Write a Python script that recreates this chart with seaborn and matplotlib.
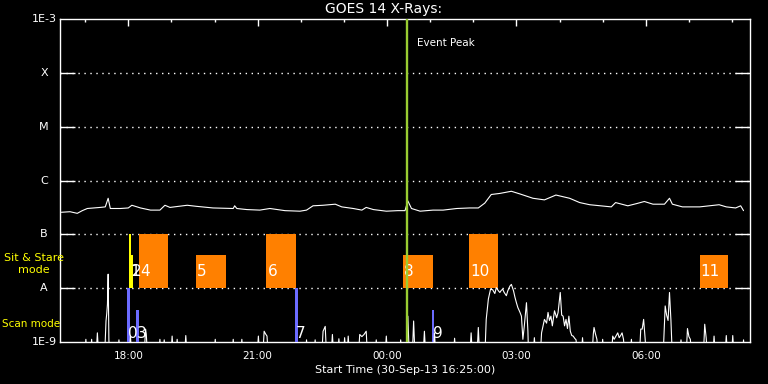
import numpy as np
import pandas as pd
import matplotlib
matplotlib.use('Agg')
import matplotlib.pyplot as plt
import matplotlib.dates as mdates
import matplotlib.transforms as mtransforms
import seaborn as sns

# time axis: minutes after start
start = pd.Timestamp('2013-09-30 16:25:00')
span_min = 960

# GOES long channel (1-8 A), log10 flux
long_min = [2, 14, 24, 31, 38, 47, 56, 63, 67, 70, 84, 95, 100, 112, 126, 139, 146, 153,
            177, 190, 213, 241, 243, 246, 260, 278, 292, 313, 334, 343, 352, 366, 383, 392,
            408, 420, 426, 436, 454, 470, 480, 484, 489, 501, 519, 533, 552, 570, 582, 591,
            600, 612, 628, 640, 658, 674, 690, 709, 723, 737, 767, 773, 790, 802, 813, 825,
            841, 848, 852, 866, 890, 917, 927, 940, 947, 951]
long_log = [-6.59, -6.58, -6.61, -6.56, -6.52, -6.51, -6.50, -6.49, -6.33, -6.52, -6.52, -6.51,
            -6.46, -6.51, -6.55, -6.55, -6.46, -6.50, -6.46, -6.48, -6.51, -6.52, -6.47, -6.52,
            -6.54, -6.55, -6.52, -6.56, -6.57, -6.55, -6.47, -6.46, -6.44, -6.49, -6.52, -6.55,
            -6.50, -6.54, -6.57, -6.56, -6.56, -6.38, -6.52, -6.57, -6.55, -6.55, -6.52, -6.51,
            -6.51, -6.42, -6.26, -6.24, -6.20, -6.25, -6.33, -6.36, -6.27, -6.33, -6.41, -6.45,
            -6.49, -6.41, -6.47, -6.43, -6.39, -6.44, -6.44, -6.33, -6.44, -6.49, -6.49, -6.45,
            -6.49, -6.51, -6.47, -6.56]

# GOES short channel (0.5-4 A), log10 flux; -9.3 = below plot floor
short_min = [0, 34, 36, 38, 42, 44, 46, 50, 52, 54, 62, 64, 65, 66, 67, 68, 69, 80, 82, 84,
             96, 98, 100, 117, 119, 120, 122, 137, 139, 141, 143, 145, 147, 154, 156, 158,
             161, 163, 165, 173, 175, 177, 214, 216, 218, 239, 241, 243, 251, 253, 255, 274,
             276, 278, 282, 284, 286, 288, 290, 341, 343, 345, 353, 355, 357, 364, 366, 369,
             371, 377, 379, 381, 386, 388, 390, 394, 396, 398, 399, 401, 403, 415, 417, 420,
             423, 426, 428, 438, 440, 442, 452, 454, 456, 472, 474, 476, 482, 484, 486, 490,
             492, 494, 505, 507, 509, 519, 521, 523, 547, 549, 551, 570, 572, 574, 580, 582,
             584, 591, 593, 596, 599, 602, 605, 607, 610, 612, 614, 616, 618, 621, 623, 626,
             628, 631, 633, 635, 637, 640, 642, 644, 646, 649, 651, 652, 658, 660, 662, 668,
             670, 672, 674, 677, 679, 681, 683, 685, 688, 691, 693, 696, 698, 700, 702, 704,
             706, 708, 710, 712, 714, 716, 718, 720, 725, 727, 729, 740, 742, 743, 745, 747,
             749, 753, 755, 757, 767, 769, 771, 774, 776, 778, 780, 782, 784, 786, 793, 795,
             797, 806, 808, 810, 812, 814, 816, 839, 841, 842, 844, 846, 848, 850, 852, 862,
             864, 866, 871, 873, 875, 877, 879, 895, 897, 899, 901, 908, 910, 912, 925, 927,
             929, 934, 936, 938, 949, 951, 953]
short_log = [-9.3, -9.3, -8.95, -9.3, -9.3, -8.95, -9.3, -9.3, -8.83, -9.3, -9.3, -8.61, -8.48,
             -8.30, -7.74, -8.95, -9.3, -9.3, -8.96, -9.3, -9.3, -8.89, -9.3, -9.3, -8.76, -8.85,
             -9.3, -9.3, -8.95, -9.3, -9.3, -8.96, -9.3, -9.3, -8.89, -9.3, -9.3, -8.95, -9.3,
             -9.3, -8.88, -9.3, -9.3, -8.95, -9.3, -9.3, -8.95, -9.3, -9.3, -8.95, -9.3, -9.3,
             -8.89, -9.3, -9.3, -8.80, -8.85, -8.89, -9.3, -9.3, -8.96, -9.3, -9.3, -8.96, -9.3,
             -9.3, -8.80, -8.71, -9.3, -9.3, -8.86, -9.3, -9.3, -8.94, -9.3, -9.3, -8.92, -9.3,
             -9.3, -8.89, -9.3, -9.3, -8.86, -8.90, -8.86, -8.80, -9.3, -9.3, -8.96, -9.3, -9.3,
             -8.89, -9.3, -9.3, -8.96, -9.3, -9.3, -8.52, -9.3, -9.3, -8.61, -9.3, -9.3, -8.80,
             -9.3, -9.3, -8.83, -9.3, -9.3, -8.93, -9.3, -9.3, -8.83, -9.3, -9.3, -8.73, -9.3,
             -9.3, -8.58, -8.20, -8.02, -8.03, -8.10, -7.99, -8.05, -8.08, -8.04, -8.02, -8.08,
             -8.14, -8.05, -7.96, -7.93, -8.05, -8.17, -8.27, -8.36, -8.45, -8.52, -8.95, -8.70,
             -8.27, -8.80, -9.3, -9.3, -8.92, -9.3, -9.3, -8.83, -8.70, -8.58, -8.65, -8.45,
             -8.60, -8.52, -8.70, -8.42, -8.55, -8.45, -8.08, -8.50, -8.52, -8.70, -8.58, -8.75,
             -8.52, -8.80, -8.88, -8.89, -8.93, -8.96, -9.3, -9.3, -8.92, -9.3, -9.3, -8.85,
             -8.73, -8.85, -8.95, -9.3, -9.3, -8.95, -9.3, -9.3, -8.89, -8.95, -8.88, -8.83,
             -8.92, -8.88, -8.83, -8.95, -9.3, -9.3, -8.95, -9.3, -9.3, -8.76, -8.76, -8.58,
             -8.92, -9.3, -9.3, -8.65, -8.33, -8.50, -8.60, -8.08, -8.60, -9.3, -9.3, -8.96,
             -9.3, -9.3, -8.75, -8.90, -8.95, -9.3, -9.3, -8.67, -8.92, -9.3, -9.3, -8.89, -9.3,
             -9.3, -8.88, -9.3, -9.3, -8.88, -9.3, -9.3, -8.96, -9.3]

# observations (IRIS-style timeline)
obs_label = ['0', '1', '2', '3', '4', '5', '6', '7', '8', '9', '10', '11']
obs_mode = ['scan', 'stare', 'stare', 'scan', 'stare', 'stare', 'stare', 'scan',
            'stare', 'scan', 'stare', 'stare']
obs_start = [93, 96, 99, 106, 110, 189, 287, 327, 477, 517, 569, 890]
obs_end = [98, 99, 101, 110, 150, 231, 328, 331, 519, 521, 610, 930]
obs_top = [-8.0, -7.0, -7.39, -8.41, -7.0, -7.39, -7.0, -8.0, -7.39, -8.41, -7.0, -7.39]

peak_min = 483

class_names = ['1E-9', 'A', 'B', 'C', 'M', 'X', '1E-3']
class_exp = [-9, -8, -7, -6, -5, -4, -3]

sns.set_style('dark', rc={'axes.facecolor': 'black', 'figure.facecolor': 'black',
                          'axes.edgecolor': 'white', 'text.color': 'white',
                          'xtick.color': 'white', 'ytick.color': 'white',
                          'axes.labelcolor': 'white'})
plt.rcParams['font.family'] = ['DejaVu Sans']

t0 = mdates.date2num(start)
to_num = lambda m: t0 + np.asarray(m, dtype=float) / 1440.0

long_df = pd.DataFrame({'time': start + pd.to_timedelta(long_min, unit='min'),
                        'flux': 10.0 ** np.array(long_log)})
short_df = pd.DataFrame({'time': start + pd.to_timedelta(short_min, unit='min'),
                         'flux': 10.0 ** np.array(short_log)})

fig = plt.figure(figsize=(7.68, 3.84), dpi=100)
ax = fig.add_axes([60 / 768, 42 / 384, 690 / 768, 323 / 384])

sns.lineplot(data=long_df, x='time', y='flux', ax=ax, color='white', lw=0.8,
             estimator=None, sort=False, zorder=4)
sns.lineplot(data=short_df, x='time', y='flux', ax=ax, color='white', lw=0.8,
             estimator=None, sort=False, zorder=4)

ax.set_yscale('log')
ax.set_ylim(10.0 ** class_exp[0], 10.0 ** class_exp[-1])
ax.set_xlim(to_num(0), to_num(span_min))

# dotted class levels
for e in class_exp[1:-1]:
    ax.axhline(10.0 ** e, color='white', lw=1.0, ls=(0, (1, 3.3)), zorder=1)

# observation bars
for lab, mode, s, e, top in zip(obs_label, obs_mode, obs_start, obs_end, obs_top):
    base = -8.0 if mode == 'stare' else -9.0
    if mode == 'scan':
        col = '#6b6bff'
    elif e - s < 5:
        col = '#ffff00'
    else:
        col = '#ff8000'
    ax.bar(to_num(s), 10.0 ** top - 10.0 ** base, bottom=10.0 ** base,
           width=(e - s) / 1440.0, align='edge', color=col, lw=0, zorder=3)
for lab, mode, s in zip(obs_label, obs_mode, obs_start):
    ty = -7.69 if mode == 'stare' else -8.84
    ax.annotate(lab, (to_num(s), 10.0 ** ty), xytext=(0.8, 0), textcoords='offset points',
                ha='left', va='center', fontsize=11, color='white', zorder=5)

ax.axvline(to_num(peak_min), color='#9acd32', lw=1.7, zorder=6)
ax.annotate('Event Peak', (to_num(peak_min), 1), xycoords=('data', 'axes fraction'),
            xytext=(7, -17), textcoords='offset points', ha='left', va='center',
            fontsize=7.5, color='white')

# axes styling
for sp in ax.spines.values():
    sp.set_color('white')
    sp.set_linewidth(1.0)
ax.set_yticks([10.0 ** e for e in class_exp[1:-1]])
ax.yaxis.set_minor_locator(matplotlib.ticker.NullLocator())
ax.tick_params(axis='y', which='major', direction='in', length=10.8, width=1.0,
               left=True, right=True, labelleft=False)
ax.xaxis.set_major_locator(mdates.HourLocator(byhour=range(0, 24, 3)))
ax.xaxis.set_minor_locator(mdates.HourLocator())
ax.xaxis.set_major_formatter(mdates.DateFormatter('%H:%M'))
ax.tick_params(axis='x', which='both', direction='in', bottom=False, top=True,
               labelbottom=True, labelsize=7.5, pad=6.5, colors='white')
ax.tick_params(axis='x', which='major', length=4.8, width=1.0)
ax.tick_params(axis='x', which='minor', length=2.4, width=1.0)
ax.set_ylabel('')
ax.set_xlabel('Start Time (30-Sep-13 16:25:00)', fontsize=8, labelpad=3)
ax.grid(False)

tr = mtransforms.blended_transform_factory(fig.transFigure, ax.transData)
for name, e in zip(class_names, class_exp):
    fig.text(44 / 768, 10.0 ** e, name, transform=tr, ha='center', va='center',
             fontsize=8, color='white')

fig.text(34 / 768, 1 - 264 / 384, 'Sit & Stare\nmode', ha='center', va='center',
         multialignment='center', fontsize=8, color='#ffff00')
fig.text(2 / 768, 1 - 324 / 384, 'Scan mode', ha='left', va='center',
         fontsize=7.5, color='#ffff00')
fig.text(0.5, 1 - 9 / 384, 'GOES 14 X-Rays:', ha='center', va='center', fontsize=10,
         color='white')

fig.savefig('out.png', dpi=100, facecolor='black')
